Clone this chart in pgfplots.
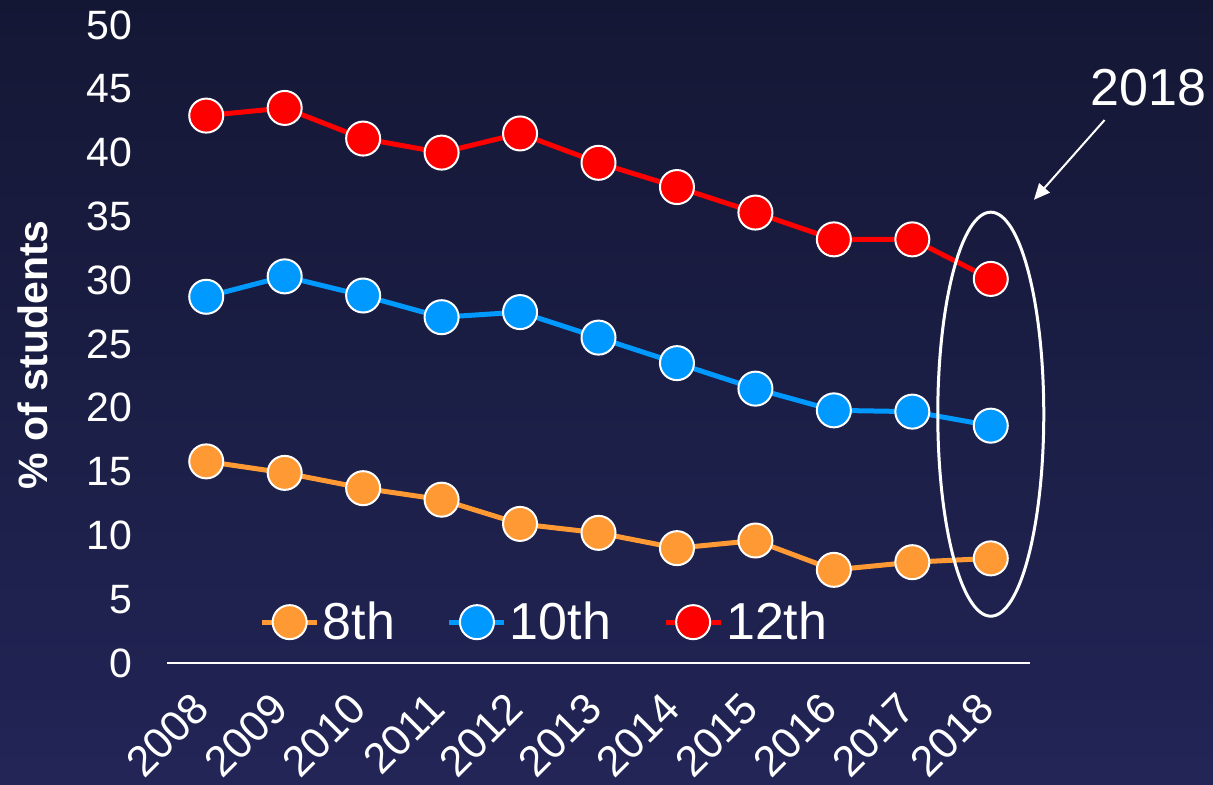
\documentclass[border=0pt]{standalone}
\usepackage{pgfplots}
\pgfplotsset{compat=1.18}
\usetikzlibrary{arrows.meta}
\usepackage{fontspec}
\setmainfont{Liberation Sans}
\definecolor{bgtop}{RGB}{20,23,52}
\definecolor{bgbot}{RGB}{34,37,86}
\definecolor{c8}{RGB}{255,153,51}
\definecolor{c10}{RGB}{0,153,255}
\definecolor{c12}{RGB}{255,0,0}
\begin{document}
\begin{tikzpicture}
\shade[top color=bgtop, bottom color=bgbot] (0,0) rectangle (606.5pt,392.5pt);
\begin{axis}[
  at={(83.5pt,61pt)}, anchor=south west,
  scale only axis, width=431.5pt, height=319pt,
  xmin=2007.5, xmax=2018.5, ymin=0, ymax=50,
  clip=false,
  axis x line*=bottom, axis y line*=left,
  x axis line style={white, line width=1pt, -},
  y axis line style={draw=none},
  major tick length=0pt,
  xtick={2008,...,2018},
  xticklabels={2008,2009,2010,2011,2012,2013,2014,2015,2016,2017,2018},
  ytick={0,5,...,50},
  /pgf/number format/assume math mode=true,
  tick label style={white, font=\fontsize{20.5}{24}\selectfont},
  xticklabel style={anchor=east, rotate=45, font=\fontsize{21.5}{24}\selectfont},
  xticklabel shift=16.5pt,
  yticklabel style={anchor=east},
  yticklabel shift=14pt,
  ylabel={\% of students},
  every axis y label/.style={at={(axis description cs:-0.155,0.483)}, rotate=90, anchor=center, white, font=\bfseries\fontsize{20.5}{24}\selectfont},
  legend columns=3,
  legend style={at={(0.438,0.064)}, anchor=center, draw=none, fill=none, text=white,
    font=\fontsize{26}{30}\selectfont, nodes={inner sep=1.5pt},
    /tikz/every even column/.append style={column sep=24.5pt}},
  legend image code/.code={\draw[mark repeat=2,mark phase=2,#1] plot coordinates {(0pt,0pt) (13.75pt,0pt) (27.5pt,0pt)};},
  every axis plot/.append style={line width=2.5pt, mark=*, mark size=8.5pt},
]
\addplot[c8, mark options={fill=c8, draw=white, line width=1pt}] coordinates {
(2008,15.8) (2009,14.9) (2010,13.7) (2011,12.8) (2012,10.9) (2013,10.2)
(2014,9.0) (2015,9.6) (2016,7.3) (2017,7.9) (2018,8.2)};
\addlegendentry{8th}
\addplot[c10, mark options={fill=c10, draw=white, line width=1pt}] coordinates {
(2008,28.7) (2009,30.3) (2010,28.8) (2011,27.1) (2012,27.5) (2013,25.5)
(2014,23.5) (2015,21.5) (2016,19.8) (2017,19.7) (2018,18.6)};
\addlegendentry{10th}
\addplot[c12, mark options={fill=c12, draw=white, line width=1pt}] coordinates {
(2008,42.9) (2009,43.5) (2010,41.1) (2011,40.0) (2012,41.5) (2013,39.2)
(2014,37.3) (2015,35.3) (2016,33.2) (2017,33.2) (2018,30.1)};
\addlegendentry{12th}
\draw[white, line width=1.5pt] (axis cs:2018,19.5) ellipse [x radius=26.5pt, y radius=101pt];
\draw[white, line width=1pt, -{Triangle[length=8pt,width=7pt]}] (axis cs:2019.45,42.55) -- (axis cs:2018.55,36.3);
\node[white, font=\fontsize{26}{30}\selectfont] at (axis cs:2020.01,45.1) {2018};
\end{axis}
\pgfresetboundingbox
\useasboundingbox (0,0) rectangle (606.5pt,392.5pt);
\end{tikzpicture}
\end{document}
